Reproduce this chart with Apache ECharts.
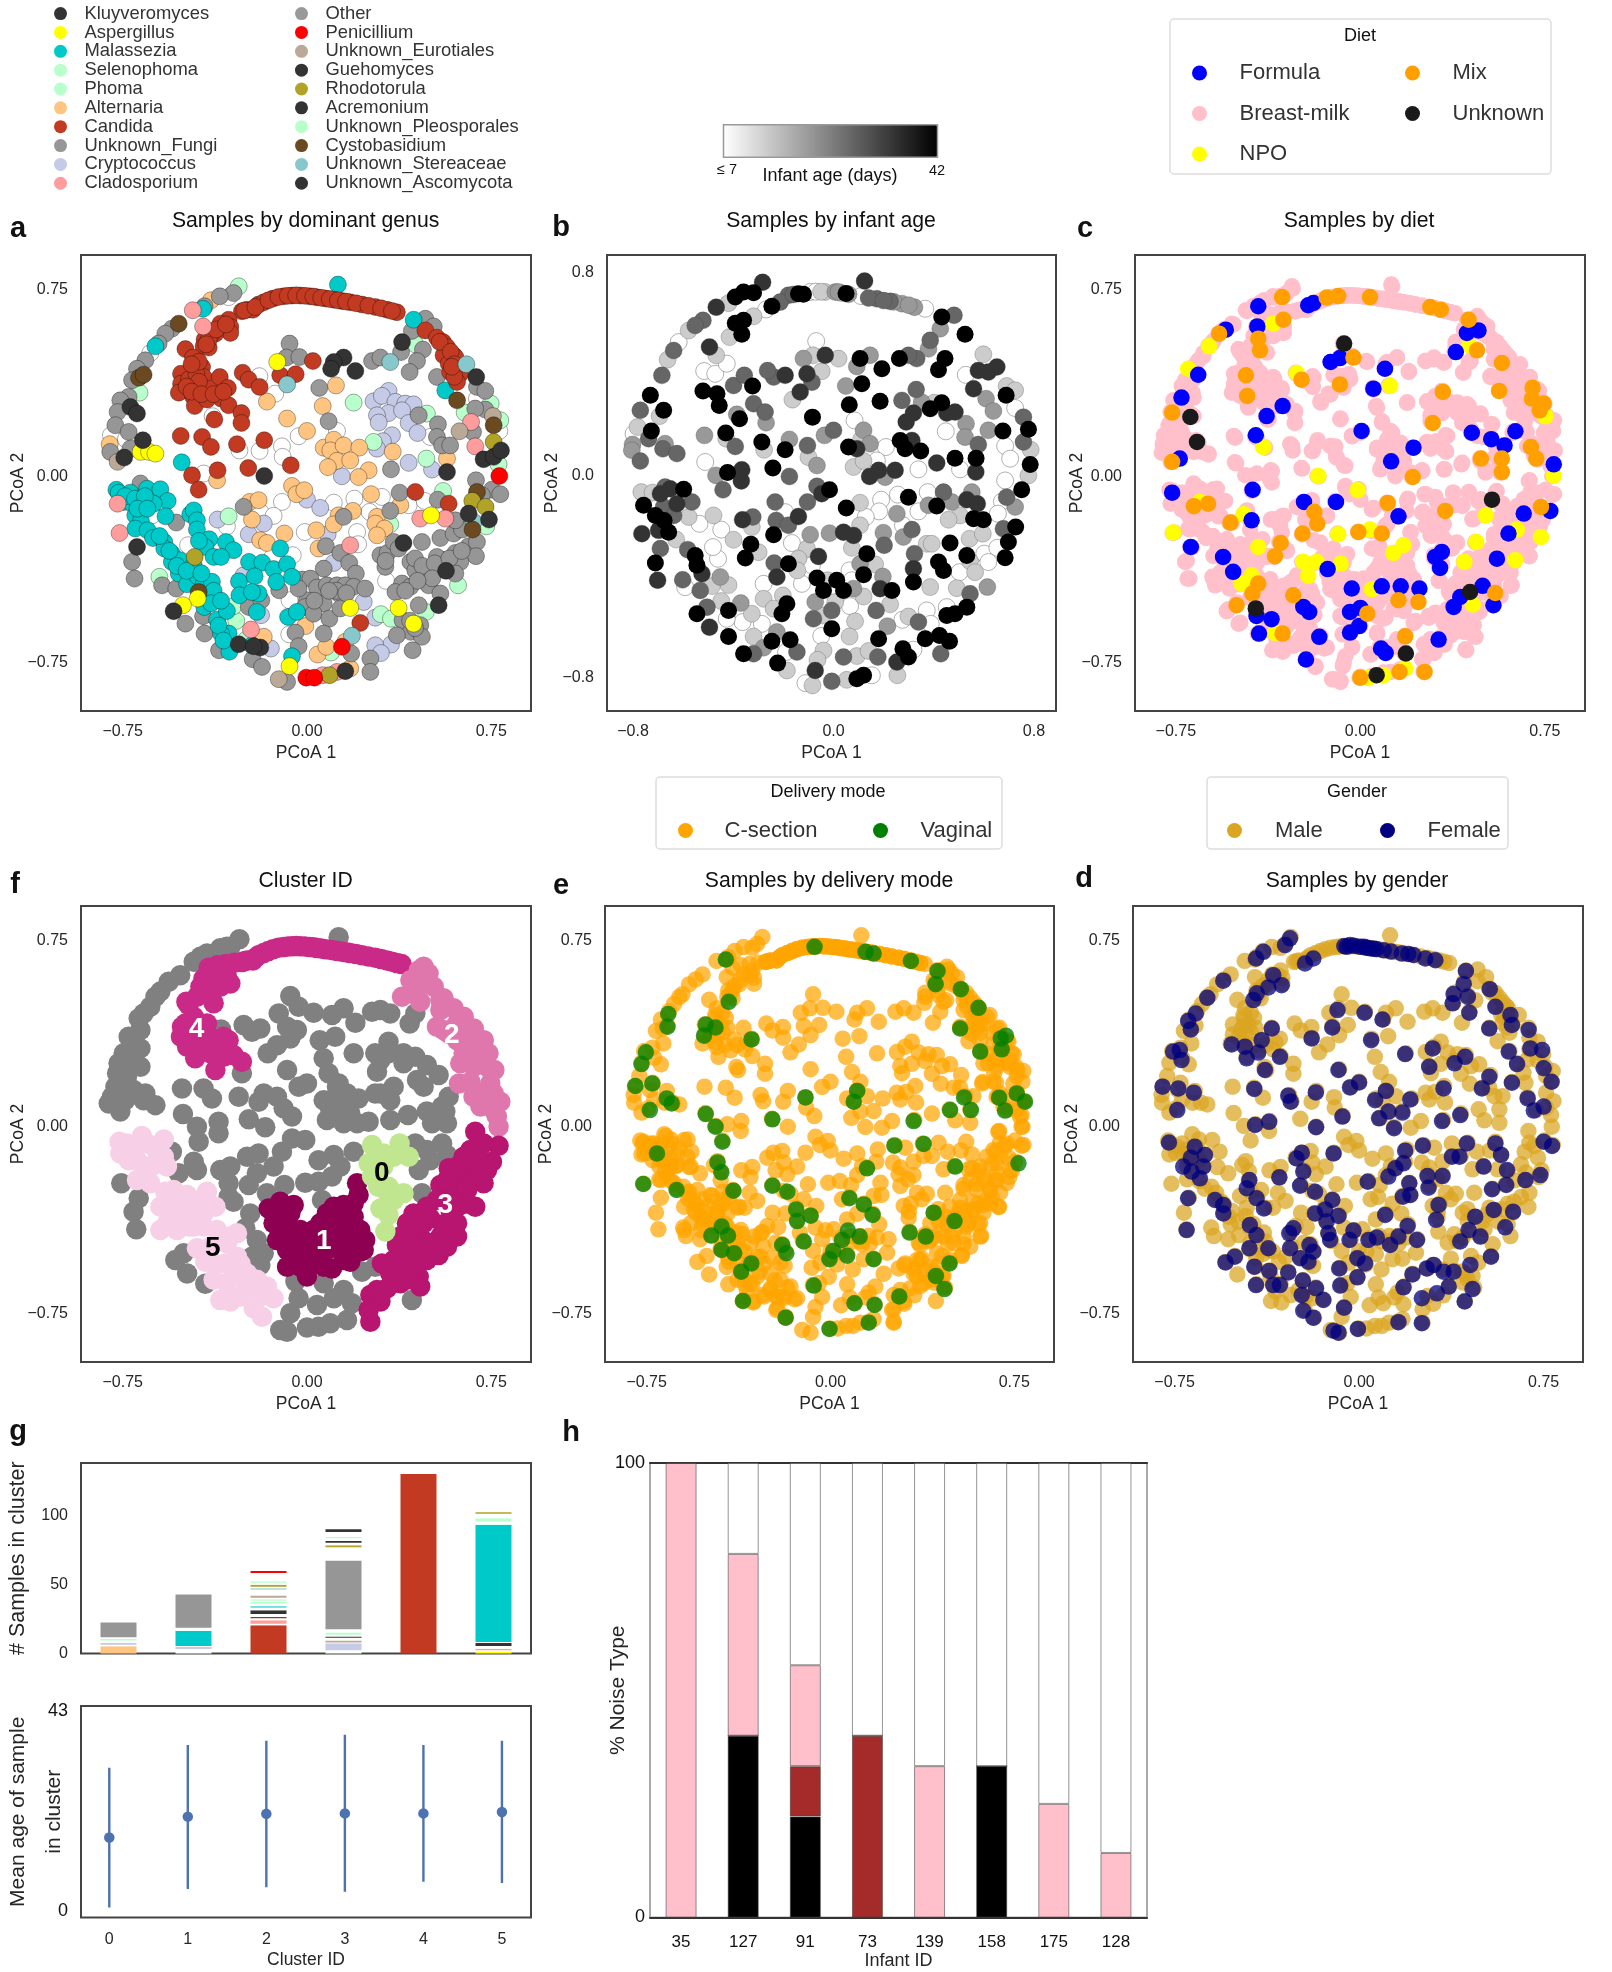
<!DOCTYPE html>
<html><head><meta charset="utf-8"><style>html,body{margin:0;background:#fff}#c{width:1612px;height:1972px}</style>
<script src="https://cdn.jsdelivr.net/npm/echarts@6/dist/echarts.min.js"></script></head>
<body><div id="c"></div><script>
// ---- Panel a: samples by dominant genus (PCoA1, PCoA2)
const candida=[[-.265,.663],[-.244,.669],[-.22,.669],[-.197,.69],[-.176,.699],[-.138,.714],[-.095,.723],[-.061,.726],[-.027,.726],[.011,.723],[.041,.719],[.075,.714],[.111,.709],[.142,.704],[.176,.699],[.224,.69],[.278,.68],[.326,.669],[.366,.659],
[.482,.586],[.529,.557],[.554,.539],[.57,.519],[.597,.486],[.556,.486],[.577,.452],[.604,.479],[.624,.412],[.583,.419],[.611,.379],
[-.319,.629],[-.312,.6],[-.312,.576],[-.353,.613],[-.373,.573],[-.393,.566],[-.417,.549],[-.421,.522],[-.4,.517],[-.495,.511],[-.464,.477],[-.468,.439],[-.427,.439],[-.471,.406],[-.513,.412],[-.513,.372],[-.522,.336],[-.461,.372],[-.421,.399],[-.393,.352],[-.464,.321],[-.457,.282],[-.407,.308],[-.355,.399],[-.322,.355],[-.349,.312],[-.319,.285],[-.267,.254],[-.267,.214],[-.377,.228],[-.262,.416],[-.237,.388],[-.193,.359],[-.109,.406],[-.046,.41],[.024,.463],
[-.514,.162],[-.427,.158],[-.391,.118],[-.285,.129],[-.174,.145],[-.364,.024],[-.468,.004],[-.441,-.054],[-.239,.033],[-.066,.044],[.441,-.063],[.577,-.11],[.217,-.589]];
const candidaExtra=[[-.255,.666],[-.21,.68],[-.157,.707],[-.116,.72],[-.078,.725],[-.044,.727],[-.008,.725],[.026,.722],[.058,.717],[.093,.712],[.126,.707],[.159,.702],[.2,.695],[.25,.685],[.302,.675],[.346,.664],[-.48,.39],[-.45,.41],[-.44,.38],[-.49,.36],[-.47,.34],[-.43,.33],[-.38,.33],[-.34,.34],[-.4,.55],[-.37,.59],[-.33,.61],[-.41,.53],[-.44,.46],[-.47,.45],[.54,.54],[.585,.5],[.6,.45],[.6,.4],[.59,.44]];
const malassezia=[[.126,.77],[.434,.629],[.563,.345],[-.617,.522],[-.51,.056],[-.423,.673],[-.776,-.054],[-.767,-.066],[-.719,-.066],[-.651,-.05],[-.597,-.052],[-.567,-.099],[-.746,-.103],[-.712,-.11],[-.678,-.123],[-.624,-.11],[-.699,-.157],[-.676,-.179],[-.576,-.161],[-.475,-.153],[-.461,-.137],[-.699,-.21],[-.649,-.217],[-.448,-.177],[-.448,-.214],[-.627,-.248],[-.581,-.264],[-.581,-.29],[-.55,-.311],[-.55,-.344],[-.518,-.337],[-.398,-.253],[-.33,-.264],[-.299,-.297],[-.414,-.284],[-.38,-.324],[-.35,-.324],[-.522,-.391],[-.488,-.434],[-.445,-.402],[-.461,-.357],[-.421,-.434],[-.387,-.424],[-.277,-.422],[-.275,-.478],[-.366,-.495],[-.4,-.485],[-.418,-.525],[-.366,-.576],[-.326,-.541],[-.319,-.632],[-.35,-.632],[-.316,-.705],[-.236,-.344],[-.182,-.347],[-.136,-.373],[-.081,-.353],[-.109,-.29],[-.213,-.402],[-.125,-.424],[-.061,-.404],[-.197,-.471],[-.224,-.465],[-.204,-.545],[-.077,-.565],[-.041,-.545],[-.061,-.723],[-.224,-.679]];
const malasseziaExtra=[[-.74,-.08],[-.7,-.09],[-.66,-.08],[-.69,-.13],[-.65,-.13],[-.6,-.24],[-.56,-.3],[-.53,-.36],[-.49,-.38],[-.43,-.39],[-.38,-.46],[-.39,-.51],[-.35,-.5],[-.36,-.6],[-.34,-.66],[-.44,-.26]];
const unknownFungi=[[-.299,.736],[-.355,.723],[-.417,.683],[-.55,.593],[-.577,.573],[-.604,.533],[-.658,.466],[-.692,.432],[-.712,.386],[-.726,.319],[-.76,.305],[-.771,.258],[-.78,.205],[-.726,.178],[-.801,.098],[-.719,.111],[-.678,-.029],[-.532,-.186],[-.712,-.344],[-.702,-.411],[-.59,-.438],[-.532,-.451],[-.495,-.592],[-.423,-.562],[-.417,-.632],[-.358,-.699],[-.221,-.735],[-.183,-.766],[-.237,-.525],[-.186,-.498],[-.113,-.458],[-.258,-.123],
[-.071,.533],[-.084,.477],[-.031,.479],[.265,.463],[.299,.477],[.383,.499],[.427,.584],[.482,.633],[.516,.602],[.472,.509],[.448,.463],[.418,.419],[.529,.399],[.692,.359],[.726,.343],[.726,.268],[.685,.272],[.533,.209],[.529,.158],[.55,.124],[.583,.124],[.676,.178],[.455,.245],[.688,-.016],[.753,-.054],[.787,-.072],[.712,-.076],[.377,-.066],[.339,-.139],[.532,-.094],[.543,-.248],[.597,-.23],[.631,-.214],[.604,-.177],
[.149,-.163],[.077,-.281],[.136,-.308],[.172,-.348],[.068,-.371],[.199,-.391],[-.02,-.415],[.014,-.411],[.041,-.447],[.081,-.438],[.122,-.438],[.156,-.438],[.19,-.444],[.237,-.451],[.129,-.471],[0,-.498],[-.034,-.451],[.068,-.511],[-.007,-.525],[.027,-.552],[.091,-.572],[.136,-.531],[-.047,-.628],[.068,-.632],[-.034,-.683],[.18,-.712],[.258,-.732],[.258,-.786],[-.081,-.826],
[.299,-.317],[.328,-.308],[.353,-.264],[.373,-.29],[.319,-.364],[.468,-.264],[.421,-.344],[.441,-.378],[.502,-.378],[.55,-.335],[.604,-.308],[.658,-.281],[.692,-.264],[.688,-.321],[.624,-.344],[.529,-.324],[.604,-.391],[.387,-.431],[.36,-.465],[.421,-.444],[.495,-.438],[.543,-.471],[.455,-.518],[.389,-.578],[.461,-.598],[.423,-.625],[.468,-.645],[.366,-.639],[.43,-.699]];
const unknownFungiExtra=[[.32,-.34],[.44,-.33],[.47,-.36],[.52,-.35],[.58,-.33],[.63,-.3],[.51,-.41],[.45,-.42],[.4,-.46],[.12,-.46],[.16,-.47],[.09,-.46],[.03,-.5],[.42,-.58],[.44,-.61]];
const otherGenus=[[.05,.355],[.088,.221],[.342,.028]];
const aspergillus=[[-.121,.459],[-.677,.098],[-.643,.098],[-.617,.091],[.505,-.157],[-.445,-.491],[-.505,-.518],[.176,-.529],[.373,-.529],[-.071,-.763],[.434,-.592]];
const kluyveromyces=[[.149,.477],[.109,.459],[.098,.432],[.197,.423],[.387,.539],[.689,.399],[-.719,.278],[-.692,.252]];
const guehomyces=[[-.668,.145],[-.744,.075],[-.174,.001],[.57,.017],[.719,.068],[.76,.078],[.79,.104]];
const acremonium=[[.658,-.15],[.741,-.174],[.393,-.268],[.566,-.38],[.536,-.518]];
const unknownAscomycota=[[-.692,-.284],[-.543,-.542],[-.278,-.675],[-.19,-.688],[-.217,-.683],[.156,-.783]];
const selenophoma=[[-.278,.763],[-.682,.336],[.19,.296],[.441,.53],[.488,.252],[.642,.256],[.748,.292],[.787,.225]];
const phoma=[[.271,.138],[.486,.071],[.78,.048],[.554,-.059],[.73,-.201],[.339,-.193],[-.319,-.161],[-.601,-.404]];
const unknownPleosporales=[[.615,-.438],[.484,-.545],[.301,-.554],[.342,-.572],[-.288,-.581],[-.299,-.522],[-.247,-.656],[.098,-.708]];
const alternaria=[[-.391,.707],[-.803,.129],[-.163,.3],[.118,.365],[.064,.282],[-.081,.232],[0,.182],[.068,.115],[.109,.147],[.095,.104],[.149,.124],[.213,.115],[.122,.062],[.176,.064],[.085,.037],[.251,.024],[.21,-.003],[.349,.099],[.57,.071],[-.366,-.016],[-.061,-.039],[-.043,-.072],[-.011,-.056],[-.233,-.103],[-.197,-.096],[-.224,-.174],[.261,-.072],[.38,-.116],[.187,-.139],[.129,-.157],[.109,-.193],[.038,-.217],[-.092,-.23],[-.19,-.257],[-.163,-.268],[.285,-.163],[.278,-.19],[.316,-.21],[.285,-.237],[.047,-.29],[-.007,-.602],[-.176,-.645],[.043,-.716],[.079,-.685],[.156,-.665],[.176,-.772]];
const cryptococcus=[[.332,.343],[.271,.301],[.305,.323],[.36,.299],[.4,.292],[.434,.289],[.332,.254],[.285,.245],[.292,.216],[.387,.265],[.414,.214],[.45,.174],[.346,.165],[.309,.141],[.285,.111],[.414,.054],[.509,.027],[.142,0],[0,-.094],[.054,-.127],[-.364,-.174],[-.237,-.233],[-.176,-.19],[.084,-.233],[.109,-.348],[-.258,-.398],[.231,-.505],[-.187,-.558],[.278,-.568],[-.147,-.692],[.342,-.676],[.278,-.679],[.301,-.71]];
const cladosporium=[[-.465,.667],[-.423,.602],[-.771,-.11],[-.763,-.228],[.668,.218],[.685,.12],[.461,-.17],[.563,-.17],[.176,-.277],[-.228,-.616],[.064,-.799],[.122,-.786]];
const penicillium=[[.783,.001],[-.003,-.809],[.03,-.809],[.142,-.685]];
const unknownEurotiales=[[-.771,.058],[.621,.181],[.757,.242],[-.115,-.815]];
const rhodotorula=[[-.457,-.324],[.673,-.099],[.727,-.123],[.76,.138],[.092,-.799]];
const cystobasidium=[[-.522,.613],[-.684,.396],[-.665,.408],[.611,.305],[.674,-.214],[.692,-.063],[.76,.205],[-.441,-.465]];
const unknownStereaceae=[[.339,.459],[-.081,.369],[.649,.45],[.183,-.641],[.678,-.183]];
const unassigned=[[-.319,.72],[-.638,.495],[-.798,.165],[-.737,.149],[-.384,.241],[-.275,.104],[-.193,.102],[-.194,.402],[-.129,.332],[-.102,.12],[-.099,.078],[-.034,.161],[.122,.182],[-.421,.011],[.783,.182],[.692,.312],[.502,.158],[-.102,-.103],[-.19,-.143],[-.136,-.159],[-.326,-.201],[.109,-.106],[.193,-.09],[.305,-.083],[.414,-.116],[.479,-.099],[.255,-.143],[.204,-.224],[.208,-.273],[-.009,-.224],[-.631,-.157],[-.484,-.277],[-.14,-.324],[-.058,-.317],[.322,-.42],[-.071,-.498],[-.072,-.635]];
// ---- Panel b: infant age, one list per read grey level
const age7=[[-.069,.53],[-.093,.724],[.11,.708],[.366,.658],[-.269,.655],[-.516,.412],[-.472,.401],[-.426,.441],[-.618,.526],[-.798,.164],[-.512,.053],[.084,.217],[.448,.174],[.528,.397],[.725,.266],[.685,.116],[.705,.066],[.505,.024],[.339,.024],[.209,.112],[.173,.059],[.685,-.02],[.672,-.103],[.656,-.151],[.376,-.066],[.257,-.076],[.19,-.096],[.182,-.142],[.339,-.142],[.277,-.197],[.129,-.164],[-.193,-.145],[-.535,-.191],[-.448,-.214],[-.461,-.329],[-.481,-.283],[-.166,-.267],[-.086,-.355],[-.279,-.428],[-.126,-.428],[.064,-.375],[.073,-.414],[.503,-.382],[.602,-.309],[.654,-.286],[.618,-.342],[.372,-.533],[.452,-.52],[.388,-.586],[.275,-.57],[.066,-.516],[-.286,-.586],[-.363,-.579],[-.426,-.566],[-.049,-.634],[-.189,-.697],[.153,-.789],[-.112,-.82],[.319,-.688],[-.592,-.441],[-.07,.725]];
const age14=[[-.578,.572],[-.662,.457],[-.419,.68],[-.319,.628],[-.415,.546],[-.468,.474],[-.033,.724],[.598,.478],[.691,.353],[.725,.336],[-.694,.234],[-.782,.191],[-.767,-.066],[-.722,-.068],[-.428,.145],[-.277,.101],[-.1,.072],[.08,.033],[.12,.057],[.11,.142],[-.047,.411],[.02,.461],[-.164,.299],[-.082,.474],[.402,.287],[.787,.101],[.778,0],[.505,-.158],[.459,-.175],[.106,-.108],[.106,-.197],[-.578,-.164],[-.479,-.158],[-.628,-.253],[-.326,-.204],[-.399,-.254],[-.299,-.303],[-.106,-.289],[-.14,-.329],[-.144,-.375],[-.024,-.414],[.166,-.351],[-.485,-.437],[-.419,-.433],[-.448,-.496],[-.202,-.474],[-.279,-.487],[-.239,-.526],[-.326,-.546],[-.319,-.636],[-.043,-.553],[.007,-.5],[.12,-.478],[.226,-.509],[.086,-.576],[.064,-.636],[-.04,-.691],[-.064,-.728],[-.186,-.77],[-.084,-.829],[.093,-.713],[.14,-.693],[.255,-.789],[.073,-.286],[.372,-.27],[.392,-.27],[.543,-.25],[.596,-.23],[.545,-.339],[.565,-.382],[.492,-.445],[.386,-.441],[.299,-.557],[.053,-.807],[-.05,.725],[.03,.72]];
const age21=[[-.12,.461],[.093,.43],[.146,.474],[.049,.353],[.379,.5],[.426,.579],[.609,.303],[.638,.254],[.529,.204],[.618,.178],[.352,.289],[-.515,.158],[-.672,.125],[-.176,.142],[-.036,.158],[-.066,.039],[-.469,0],[-.386,.241],[-.269,.208],[.007,.724],[.273,.678],[.323,.664],[.12,.178],[.146,.125],[.206,-.007],[.472,-.105],[.552,-.066],[.379,-.118],[.725,-.125],[.253,-.151],[-.016,-.228],[-.093,-.234],[.199,-.226],[.279,-.243],[.106,-.349],[.197,-.399],[.08,-.447],[-.073,-.5],[.215,-.595],[-.279,-.68],[-.226,-.618],[-.452,-.401],[-.37,-.504],[.614,-.441],[-.802,.122],[-.805,.099],[.525,.151],[.02,.724],[.06,.715],[.24,.685],[.3,.672]];
const age28=[[-.521,.612],[-.552,.592],[-.638,.493],[-.685,.395],[-.771,.257],[-.738,.145],[-.771,.057],[-.681,.105],[-.625,.086],[-.672,-.046],[-.565,-.105],[-.678,-.125],[-.638,-.158],[-.691,-.289],[-.582,-.293],[-.602,-.412],[-.505,-.52],[-.532,-.454],[-.18,.711],[-.213,.684],[.173,.697],[.226,.687],[.481,.632],[.332,.461],[.299,.474],[.33,.339],[.273,.296],[.386,.533],[0,.178],[-.104,.118],[-.176,-.004],[-.104,-.105],[-.066,-.043],[-.229,-.178],[-.18,-.197],[-.233,-.105],[-.322,-.164],[-.399,.355],[-.356,.395],[-.319,.283],[-.273,.25],[-.392,.114],[-.441,-.057],[-.239,.388],[-.263,.414],[-.086,.368],[.439,-.066],[.578,.122],[.758,.23],[.758,.132],[.691,-.086],[.678,-.211],[.313,-.214],[.202,-.276],[.17,-.533],[.04,-.717],[.177,-.717],[-.146,-.697],[-.319,-.704],[.428,-.704],[-.007,-.813],[-.237,-.346],[.323,-.309],[.339,-.579],[-.08,-.566],[-.007,-.533],[.545,-.467],[-.16,.714],[.14,.7],[.2,.69]];
const age35=[[.124,.767],[-.283,.762],[-.468,.664],[-.495,.507],[-.033,.474],[-.106,.401],[-.133,.329],[-.193,.395],[.559,.342],[.652,.428],[.578,.414],[.618,.408],[.319,.246],[.29,.211],[.485,.25],[.452,.246],[.313,.138],[.412,.049],[.144,-.004],[.246,.02],[.18,.02],[.568,.013],[-.368,-.022],[-.366,.022],[.093,.105],[-.691,-.072],[-.652,-.053],[-.765,-.23],[-.625,-.112],[-.698,-.217],[-.702,-.414],[-.525,-.388],[-.495,-.599],[-.047,-.072],[.532,-.096],[.574,-.112],[.04,-.224],[.08,-.237],[-.363,-.175],[-.14,-.162],[-.06,-.32],[.186,-.447],[-.073,-.77],[.253,-.737],[-.226,-.401],[.319,-.368]];
const age42=[[-.392,.704],[-.359,.724],[-.319,.721],[-.14,.717],[-.246,.668],[.432,.625],[.525,.557],[-.392,.601],[-.359,.612],[-.366,.557],[.445,.461],[.419,.417],[.193,.421],[.263,.461],[.106,.461],[.113,.362],[.186,.293],[.063,.279],[-.084,.23],[-.521,.333],[-.465,.322],[-.456,.276],[-.323,.353],[-.731,.316],[-.678,.257],[-.375,.224],[-.727,.175],[-.43,.167],[-.286,.132],[-.193,.101],[-.242,.029],[-.423,.011],[.06,.112],[.266,.138],[.286,.105],[.348,.096],[.485,.068],[.569,.068],[.778,.182],[.676,.175],[.689,.316],[.386,.263],[.432,.287],[.785,.043],[.751,-.057],[-.016,-.057],[.299,-.086],[.412,-.121],[.051,-.129],[-.598,-.055],[-.758,-.118],[-.711,-.158],[-.676,-.178],[-.658,-.224],[.559,-.171],[.598,-.175],[.727,-.204],[-.239,-.234],[-.33,-.272],[-.352,-.326],[-.711,-.346],[-.552,-.316],[-.545,-.355],[.133,-.309],[.465,-.267],[.419,-.342],[.439,-.375],[.532,-.316],[.685,-.325],[.698,-.263],[-.18,-.349],[.12,-.392],[-.066,-.405],[.013,-.414],[-.04,-.454],[.04,-.454],[.233,-.454],[.319,-.421],[.532,-.52],[.485,-.546],[.452,-.553],[-.545,-.546],[-.186,-.507],[-.206,-.546],[-.419,-.533],[-.419,-.636],[-.007,-.605],[-.173,-.649],[-.246,-.655],[-.359,-.704],[-.223,-.741],[.18,-.645],[.277,-.684],[.299,-.717],[.366,-.645],[.423,-.632],[.463,-.655],[.093,-.803],[.12,-.789],[-.12,.715],[.05,.718]];
// ---- Panel c: diet (breast-milk = remaining samples)
const dietFormula=[[-.415,.683],[-.419,.602],[-.547,.589],[-.191,.696],[-.212,.687],[.48,.586],[.433,.576],[.388,.499],[-.121,.459],[-.083,.475],[.1,.432],[.053,.352],[-.659,.408],[-.727,.316],[-.316,.282],[-.381,.242],[-.425,.165],[.005,.182],[.216,.115],[.125,.06],[.453,.175],[.532,.149],[.586,.124],[.63,.181],[.786,.048],[-.734,.071],[-.765,-.066],[-.438,-.054],[-.229,-.103],[-.099,-.103],[.664,-.15],[.772,-.139],[.602,-.23],[.555,-.331],[.155,-.161],[-.442,-.177],[-.689,-.284],[-.558,-.324],[-.517,-.384],[-.133,-.373],[.304,-.324],[.331,-.304],[.324,-.368],[-.035,-.451],[.087,-.442],[.164,-.442],[.24,-.451],[.497,-.44],[.406,-.485],[.379,-.525],[.541,-.518],[-.232,-.525],[-.208,-.545],[-.042,-.545],[0,-.529],[-.005,-.602],[-.042,-.628],[-.422,-.561],[-.361,-.574],[-.412,-.632],[-.167,-.645],[.084,-.692],[.103,-.71],[-.221,-.736],[.318,-.656]];
const dietMix=[[-.318,.72],[-.313,.629],[-.574,.573],[-.415,.553],[-.408,.506],[-.137,.718],[-.09,.724],[.039,.72],[.284,.68],[.327,.669],[.44,.629],[.474,.506],[-.028,.477],[.575,.455],[.564,.343],[.7,.356],[.697,.312],[.745,.292],[.729,.265],[.335,.339],[.294,.214],[-.083,.369],[-.239,.388],[-.465,.406],[-.46,.323],[-.765,.256],[-.765,.058],[.693,.118],[.715,.071],[.575,.071],[.575,.017],[.49,.071],[.213,-.003],[.111,-.107],[.345,-.139],[.734,-.123],[-.677,-.12],[-.619,-.11],[-.528,-.186],[-.187,-.143],[-.175,-.19],[-.235,-.23],[-.008,-.224],[.087,-.23],[-.324,-.268],[-.347,-.321],[-.415,-.431],[-.439,-.471],[-.503,-.518],[-.273,-.478],[.236,-.505],[.155,-.498],[.028,-.552],[-.316,-.632],[.182,-.643],[.159,-.786],[.261,-.786],[0,-.809],[.548,-.469]];
const dietNPO=[[-.259,.415],[-.354,.613],[-.615,.522],[-.7,.432],[.442,.526],[.752,.241],[.121,.363],[-.171,.001],[-.011,-.056],[.786,.001],[-.653,-.103],[-.474,-.153],[-.761,-.226],[.51,-.157],[-.09,-.233],[.039,-.214],[.471,-.264],[.636,-.214],[.734,-.244],[.134,-.308],[.175,-.277],[-.232,-.344],[-.178,-.344],[-.08,-.351],[-.212,-.4],[.423,-.344],[.63,-.337],[-.442,-.398],[-.483,-.431],[.046,-.454],[.457,-.515],[-.347,-.629],[.182,-.772],[.094,-.799],[.033,-.809],[-.395,.118],[-.415,-.284]];
const dietUnknown=[[-.066,.533],[-.691,.238],[-.664,.138],[.535,-.094],[.066,-.799],[.185,-.712],[-.425,-.531],[.446,-.465]];
// ---- Panel e: vaginal deliveries (c-section = remaining samples)
const vaginal=[[-.065,.724],[.176,.697],[.143,.704],[.328,.667],[-.427,.673],[.437,.627],[.429,.574],[.532,.554],[.604,.479],[.529,.396],[.611,.303],[.695,.356],[.716,.367],[.699,.312],[-.662,.454],[-.665,.403],[-.509,.412],[-.469,.4],[-.516,.367],[-.322,.352],[-.415,.503],[-.753,.3],[-.771,.253],[-.796,.165],[-.727,.175],[-.668,.115],[-.648,.095],[-.737,.068],[-.509,.052],[-.469,.001],[-.441,-.059],[-.237,.031],[-.102,.119],[.109,.145],[.095,.102],[.545,.119],[.488,.068],[.573,.068],[.688,.118],[.76,.135],[.794,.102],[.712,.066],[.339,.024],[.261,-.075],[.38,-.068],[.509,-.159],[.767,-.146],[.149,-.166],[-.708,-.106],[-.461,-.142],[-.445,-.182],[-.764,-.229],[-.628,-.253],[-.396,-.256],[-.237,-.236],[-.176,-.26],[.077,-.286],[.136,-.311],[.172,-.353],[-.14,-.331],[-.081,-.356],[-.136,-.378],[.421,-.344],[.506,-.378],[.323,-.424],[.389,-.44],[-.444,-.4],[-.486,-.436],[-.418,-.436],[-.445,-.494],[-.393,-.507],[-.197,-.474],[-.18,-.507],[-.109,-.46],[.071,-.416],[.119,-.44],[.047,-.454],[.011,-.498],[-.004,-.531],[.068,-.517],[.176,-.531],[-.323,-.548],[-.364,-.581],[.486,-.548],[.43,-.598],[.465,-.651],[.281,-.681],[-.068,-.637],[-.357,-.699],[.098,-.708],[.18,-.715],[-.183,-.766],[.156,-.786],[-.004,-.811]];
// ---- Panel d: female infants (male = remaining samples)
const female=[[-.281,.758],[-.301,.731],[-.389,.704],[-.419,.677],[-.037,.731],[.004,.724],[.045,.718],[-.05,.724],[.174,.697],[.221,.691],[.269,.677],[-.186,.677],[-.22,.657],[.434,.627],[.425,.574],[.384,.534],[.38,.497],[.442,.523],[.448,.459],[.531,.554],[.554,.483],[.615,.45],[.621,.41],[.529,.396],[.689,.39],[.608,.303],[.642,.253],[.696,.316],[.744,.309],[.75,.236],[.782,.182],[.621,.178],[.529,.202],[.499,.155],[.685,.115],[.71,.066],[.75,.082],[.75,-.059],[.784,-.076],[.411,.048],[.337,.024],[.438,-.066],[.554,-.066],[.577,-.112],[.506,-.159],[.408,-.119],[.377,-.119],[.259,-.075],[.187,-.095],[.18,-.146],[.147,-.166],[.119,-.199],[.035,-.22],[-.104,-.106],[-.233,-.103],[-.254,-.126],[-.227,-.179],[-.24,-.236],[-.179,-.26],[-.324,-.202],[-.446,-.213],[-.457,-.246],[-.417,-.286],[-.387,-.327],[-.695,-.286],[-.701,-.414],[-.552,-.347],[-.586,-.293],[-.552,-.313],[-.668,-.079],[-.627,-.112],[-.684,-.123],[-.634,-.159],[-.715,-.159],[-.681,-.179],[-.647,-.206],[-.773,-.062],[-.735,.155],[-.799,.162],[-.672,.138],[-.739,.068],[-.426,.153],[-.288,.126],[-.278,.102],[-.176,.139],[-.084,.229],[-.037,.159],[0,.179],[.109,.145],[.065,.108],[.208,.111],[.119,.062],[.176,.058],[.081,.035],[.142,-.005],[-.068,.042],[-.175,-.001],[-.366,.021],[-.423,.008],[.343,.155],[.285,.242],[.299,.316],[.388,.256],[.431,.282],[.187,.293],[.049,.349],[.095,.432],[.022,.459],[-.088,.47],[-.109,.4],[-.193,.356],[-.355,.396],[-.396,.349],[-.464,.323],[-.41,.299],[-.457,.276],[-.518,.332],[-.322,.282],[-.383,.229],[-.43,.51],[-.416,.537],[-.369,.561],[-.315,.57],[-.349,.61],[-.552,.588],[-.617,.519],[-.664,.456],[-.695,.426],[-.684,.392],[-.756,.303],[-.729,.309],[-.722,.269],
[.038,-.454],[-.023,-.416],[-.039,-.454],[-.118,-.454],[-.125,-.427],[-.084,-.357],[-.132,-.38],[-.179,-.347],[-.138,-.331],[-.109,-.293],[.072,-.444],[.126,-.474],[.16,-.44],[.235,-.454],[.197,-.398],[.106,-.353],[.178,-.28],[.208,-.273],[.204,-.226],[.282,-.244],[.278,-.197],[.339,-.197],[.323,-.313],[.313,-.373],[.411,-.46],[.445,-.414],[.472,-.36],[.493,-.44],[.547,-.333],[.594,-.403],[.626,-.34],[.54,-.25],[.598,-.233],[.601,-.173],[.676,-.213],[.737,-.193],[.536,-.521],[.452,-.554],[.384,-.581],[.343,-.581],[.303,-.554],[.275,-.568],[.217,-.592],[.364,-.641],[.461,-.651],[.429,-.701],[.316,-.668],[.255,-.688],[.255,-.788],[.18,-.644],[.16,-.784],[-.005,-.811],[-.104,-.818],[-.084,-.826],[-.186,-.766],[-.227,-.738],[-.061,-.726],[-.145,-.695],[-.175,-.648],[-.229,-.617],[-.233,-.675],[-.077,-.637],[-.007,-.604],[.024,-.548],[-.007,-.527],[-.081,-.568],[-.206,-.541],[-.24,-.527],[-.186,-.501],[-.202,-.474],[-.281,-.487],[-.284,-.427],[-.267,-.407],[-.288,-.584],[-.322,-.635],[-.349,-.635],[-.419,-.635],[-.365,-.578],[-.426,-.561],[-.505,-.521],[-.543,-.544],[-.369,-.487],[-.446,-.487],[-.444,-.394],[-.417,-.434],[-.02,.728],[.02,.724],[.07,.715],[.1,.71],[.13,.705],[.03,.72],[.06,.716],[-.06,.727],[.2,.695],[.31,.67]];
// ---- Panel f: cluster membership
const clusterArc=[[-.4,.64],[-.365,.65],[-.33,.655],[-.295,.66],[-.265,.663],[-.244,.669],[-.22,.669],[-.197,.69],[-.176,.699],[-.138,.714],[-.095,.723],[-.061,.726],[-.027,.726],[.011,.723],[.041,.719],[.075,.714],[.111,.709],[.142,.704],[.176,.699],[.224,.69],[.278,.68],[.326,.669],[.366,.659],[.385,.655],[-.255,.666],[-.21,.68],[-.157,.707],[-.116,.72],[-.078,.725],[-.044,.727],[-.008,.725],[.026,.722],[.058,.717],[.093,.712],[.126,.707],[.159,.702],[.2,.695],[.25,.685],[.302,.675],[.346,.664]];
const cluster4=[[-.421,.597],[-.366,.61],[-.312,.577],[-.353,.63],[-.407,.537],[-.38,.497],[-.491,.503],[-.448,.523],[-.434,.564],[-.495,.416],[-.513,.363],[-.509,.403],[-.461,.443],[-.434,.416],[-.461,.376],[-.407,.376],[-.421,.323],[-.455,.276],[-.366,.323],[-.319,.349],[-.339,.282],[-.393,.296],[-.373,.229],[-.299,.289],[-.265,.262],[-.339,.363],[-.393,.55],[-.353,.564],[-.326,.604],[-.482,.49],[-.461,.416],[-.407,.416],[-.488,.323],[-.448,.323],[-.393,.349],[-.326,.309]];
const cluster2=[[.455,.63],[.495,.617],[.421,.59],[.434,.55],[.387,.523],[.461,.503],[.516,.564],[.556,.517],[.597,.477],[.638,.443],[.529,.403],[.577,.376],[.679,.396],[.72,.349],[.739,.296],[.665,.336],[.638,.296],[.679,.242],[.619,.175],[.665,.182],[.763,.229],[.746,.175],[.678,.122],[.787,.102],[.76,.068],[.706,.082],[.78,.001],[.773,.042],[.719,.256],[.543,.47],[.611,.416],[.556,.39],[.611,.349],[.665,.376],[.692,.323],[.624,.256],[.665,.269],[.733,.242],[.692,.135],[.76,.135],[.719,.122],[.488,.577],[.475,.644],[.543,.51]];
const cluster3=[[.685,-.019],[.78,-.075],[.719,-.066],[.753,-.139],[.665,-.092],[.678,-.146],[.577,-.166],[.624,-.199],[.719,-.226],[.543,-.233],[.597,-.253],[.685,-.32],[.624,-.313],[.529,-.293],[.434,-.347],[.502,-.367],[.611,-.387],[.407,-.387],[.38,-.44],[.611,-.44],[.543,-.44],[.461,-.44],[.366,-.474],[.434,-.507],[.536,-.514],[.488,-.534],[.353,-.534],[.407,-.561],[.305,-.548],[.339,-.588],[.455,-.601],[.461,-.641],[.38,-.628],[.326,-.648],[.258,-.675],[.299,-.701],[.251,-.735],[.258,-.782],[.58,-.3],[.65,-.25],[.56,-.39],[.48,-.47],[.638,-.119],[.692,-.119],[.733,-.173],[.678,-.213],[.611,-.159],[.57,-.213],[.652,-.253],[.652,-.307],[.584,-.333],[.488,-.32],[.556,-.4],[.475,-.387],[.407,-.454],[.502,-.467],[.57,-.481],[.434,-.561],[.366,-.534],[.407,-.614],[.285,-.655],[.353,-.601]];
const cluster1=[[.204,-.226],[.21,-.273],[-.156,-.327],[-.109,-.3],[-.054,-.313],[.149,-.313],[.081,-.347],[-.136,-.387],[-.081,-.387],[.19,-.36],[.217,-.414],[.237,-.454],[-.122,-.454],[-.054,-.44],[.027,-.414],[.122,-.4],[.163,-.467],[.081,-.494],[.231,-.494],[-.081,-.494],[0,-.507],[-.081,-.561],[0,-.601],[.102,-.568],[.176,-.541],[-.027,-.561],[.041,-.534],[.07,-.44],[0,-.46],[.13,-.35],[.027,-.467],[-.054,-.507],[.122,-.467],[.19,-.44],[.163,-.387],[.054,-.387],[-.027,-.414],[-.102,-.44],[.068,-.561],[.149,-.534],[-.136,-.347],[-.068,-.347],[.19,-.307],[.109,-.32],[.217,-.5]];
const cluster0=[[.265,-.072],[.377,-.066],[.414,-.119],[.251,-.146],[.312,-.106],[.265,-.199],[.332,-.24],[.393,-.266],[.332,-.293],[.299,-.327],[.332,-.353],[.319,-.42],[.353,-.119],[.353,-.293],[.29,-.24],[.31,-.16]];
const cluster5=[[-.763,-.059],[-.672,-.036],[-.583,-.05],[-.76,-.106],[-.699,-.072],[-.617,-.086],[-.692,-.133],[-.57,-.159],[-.692,-.213],[-.624,-.153],[-.577,-.26],[-.638,-.226],[-.488,-.273],[-.407,-.26],[-.373,-.32],[-.556,-.333],[-.461,-.34],[-.597,-.414],[-.529,-.414],[-.421,-.4],[-.285,-.427],[-.448,-.487],[-.393,-.481],[-.326,-.467],[-.414,-.541],[-.332,-.548],[-.326,-.628],[-.353,-.695],[-.312,-.701],[-.244,-.648],[-.163,-.641],[-.136,-.688],[-.217,-.728],[-.183,-.762],[-.244,-.588],[-.52,-.29],[-.44,-.31],[-.48,-.4],[-.36,-.43],[-.66,-.16],[-.27,-.55],[-.733,-.066],[-.651,-.066],[-.726,-.133],[-.651,-.159],[-.583,-.119],[-.665,-.199],[-.543,-.253],[-.597,-.32],[-.434,-.293],[-.502,-.32],[-.421,-.347],[-.516,-.373],[-.461,-.4],[-.57,-.387],[-.366,-.414],[-.312,-.44],[-.38,-.548],[-.285,-.521],[-.299,-.601],[-.38,-.614],[-.271,-.681],[-.19,-.681],[-.204,-.614]];
const clusterNoise=[[.129,.762],[-.275,.754],[-.312,.724],[-.353,.718],[-.407,.697],[-.461,.664],[-.516,.61],[-.563,.584],[-.597,.544],[-.638,.483],[-.685,.436],[-.678,.39],[-.712,.343],[-.678,.316],[-.746,.296],[-.678,.242],[-.767,.256],[-.733,.202],[-.78,.162],[-.794,.122],[-.76,.062],[-.706,.149],[-.658,.135],[-.617,.088],[-.665,.108],[-.509,.155],[-.421,.155],[-.387,.115],[-.278,.122],[-.176,.135],[-.197,.102],[-.265,.216],[-.081,.229],[0,.175],[-.034,.162],[-.122,.122],[-.095,.075],[-.061,.042],[-.505,.052],[-.448,.001],[-.36,.021],[-.36,-.025],[-.441,-.059],[-.237,.031],[-.17,-.001],[-.068,.526],[-.115,.456],[-.034,.483],[.027,.459],[-.081,.403],[-.041,.39],[-.258,.41],[-.224,.383],[-.19,.396],[-.16,.296],[-.122,.329],[-.068,.356],[-.35,.392],[.149,.477],[.102,.45],[.197,.419],[.115,.363],[.052,.349],[.068,.276],[.19,.296],[.088,.216],[.129,.175],[.265,.463],[.299,.47],[.339,.456],[.441,.456],[.418,.416],[.332,.343],[.278,.296],[.332,.296],[.393,.296],[.441,.282],[.488,.249],[.285,.222],[.536,.209],[.448,.189],[.353,.162],[.278,.135],[.339,.108],[.577,.122],[.21,.115],[.068,.108],[.122,.122],[.163,.082],[.081,.028],[.149,.015],[.204,.015],[.251,.021],[.339,.028],[.411,.048],[.488,.062],[.563,.062],[.509,.015],[.57,.015],[.441,-.066],[.55,-.066],[.57,-.112],[.488,-.092],[.455,-.173],[.468,-.266],[.502,-.133],[.19,-.099],[.109,-.112],[.047,-.133],[-.007,-.052],[-.061,-.046],[-.102,-.099],[-.136,-.159],[-.197,-.106],[-.244,-.119],[-.204,-.186],[-.237,-.233],[-.163,-.266],[-.092,-.233],[-.007,-.224],[.047,-.22],[.102,-.199],[.136,-.159],[.061,-.293],[-.353,-.173],[-.312,-.159],[-.448,-.173],[-.461,-.139],[-.522,-.186],[-.55,-.099],[-.756,-.226],[-.685,-.286],[-.706,-.34],[-.695,-.411],[-.319,-.226],[-.319,-.28],[-.299,-.3],[-.536,-.534],[-.488,-.588],[-.502,-.507],[-.414,-.63],[-.231,-.347],[-.251,-.407],[-.204,-.454],[-.224,-.521],[-.19,-.554],[-.176,-.507],[-.047,-.621],[-.034,-.688],[-.068,-.748],[-.109,-.815],[-.081,-.822],[.068,-.628],[.041,-.715],[.109,-.688],[.149,-.655],[.224,-.581],[.278,-.561],[.183,-.708],[.163,-.775],[.095,-.788],[0,-.805],[.047,-.802],[.427,-.695],
[-.617,.523],[-.665,.456],[-.726,.363],[-.699,.309],[-.773,.216],[-.74,.108],[-.807,.095],[-.712,.242],[-.326,.724],[-.434,.684],[.122,.162],[.163,.135],[.095,.068],[.176,.055],[.136,.082],[.393,.256],[.299,.269],[.475,.162],[.55,.082],[.299,.135]];
const clusterIds=['0','1','2','3','4','5'];
const clusterLabelPos=[[.305,-.185],[.068,-.46],[.59,.367],[.563,-.313],[-.45,.392],[-.383,-.488]];
// ---- Panel g
const segCluster0=[['Alternaria',5.2],['gap',1.2],['Cryptococcus',1.2],['gap',1.9],['Selenophoma',1.2],['gap',1],['Unknown_Fungi',10.7]];
const segCluster1=[['gap',3.3],['Cryptococcus',1.4],['gap',.8],['Malassezia',10.9],['gap',2.3],['Unknown_Fungi',24]];
const segCluster2=[['Candida',20.5],['gap',1],['Cladosporium',2.6],['gap',1.4],['Cystobasidium',1],['gap',2.1],['Kluyveromyces',2.7],['gap',2],['Malassezia',1],['gap',2],['Selenophoma',1],['gap',1],['Phoma',1],['gap',1],['Unknown_Eurotiales',1.7],['gap',4.3],['Unknown_Stereaceae',1],['gap',1],['Rhodotorula',1.5],['gap',1.5],['Unknown_Pleosporales',1],['gap',6.1],['Penicillium',1.4]];
const segCluster3=[['gap',2.4],['Cryptococcus',5],['gap',.6],['Unknown_Eurotiales',1.5],['gap',1.9],['Guehomyces',1],['gap',1.2],['Selenophoma',1.6],['gap',2.4],['Unknown_Fungi',49.8],['gap',9.6],['Rhodotorula',1.4],['gap',1.9],['Acremonium',1.2],['gap',1.9],['Phoma',1],['gap',3.6],['Kluyveromyces',2]];
const segCluster4=[['Candida',130]];
const segCluster5=[['Aspergillus',1.5],['gap',.9],['Cladosporium',1],['gap',2.1],['Kluyveromyces',2.1],['gap',.7],['Malassezia',85],['gap',2.3],['Selenophoma',2.4],['gap',3.3],['Rhodotorula',1]];
const meanAge=[15.8,20.3,20.9,21,21,21.3];
const ageHigh=[30.8,35.7,36.65,37.9,35.7,36.6];
const ageLow=[.75,4.75,5.1,4.15,6.3,6];
// ---- Panel h
const infantIds=['35','127','91','73','139','158','175','128'];
const noiseBlack=[0,40,22.2,0,0,33.3,0,0];
const noiseBrown=[0,0,11.1,40,0,0,0,0];
const noisePink=[100,40,22.2,0,33.3,0,25,14.2];
const noiseNone=[0,20,44.5,60,66.7,66.7,75,85.8];

const genusColors={Kluyveromyces:'#333333',Aspergillus:'#ffff00',Malassezia:'#00c9c9',Selenophoma:'#b9ffcc',Phoma:'#b9ffcc',Alternaria:'#ffc47f',Candida:'#c23a21',Unknown_Fungi:'#969696',Cryptococcus:'#c5cae6',Cladosporium:'#ff9d9d',Other:'#999999',Penicillium:'#ff0000',Unknown_Eurotiales:'#bba998',Guehomyces:'#333333',Rhodotorula:'#b0a327',Acremonium:'#333333',Unknown_Pleosporales:'#b9ffcc',Cystobasidium:'#6b4a22',Unknown_Stereaceae:'#87c8cc',Unknown_Ascomycota:'#333333',gap:'#ffffff'};
const genusCol1=['Kluyveromyces','Aspergillus','Malassezia','Selenophoma','Phoma','Alternaria','Candida','Unknown_Fungi','Cryptococcus','Cladosporium'];
const genusCol2=['Other','Penicillium','Unknown_Eurotiales','Guehomyces','Rhodotorula','Acremonium','Unknown_Pleosporales','Cystobasidium','Unknown_Stereaceae','Unknown_Ascomycota'];
const genusDraw=[['gap',unassigned],['Cryptococcus',cryptococcus],['Selenophoma',selenophoma],['Phoma',phoma],['Unknown_Pleosporales',unknownPleosporales],['Alternaria',alternaria],['Other',otherGenus],['Unknown_Fungi',unknownFungi.concat(unknownFungiExtra)],['Malassezia',malassezia.concat(malasseziaExtra)],['Candida',candida.concat(candidaExtra)],['Cladosporium',cladosporium],['Unknown_Eurotiales',unknownEurotiales],['Unknown_Stereaceae',unknownStereaceae],['Cystobasidium',cystobasidium],['Rhodotorula',rhodotorula],['Aspergillus',aspergillus],['Penicillium',penicillium],['Kluyveromyces',kluyveromyces],['Guehomyces',guehomyces],['Acremonium',acremonium],['Unknown_Ascomycota',unknownAscomycota]];
const genusSamples=[].concat(...genusDraw.map(d=>d[1]));
const allSamples=genusSamples.concat(clusterNoise,clusterArc,cluster0,cluster1,cluster2,cluster3,cluster4,cluster5);
const deliverySamples=genusSamples.concat(clusterArc,cluster5,cluster2,cluster3);

const FONT='"Liberation Sans",Arial,sans-serif';
const INK='#262626', FRAME='#444444';
const grids=[],xAxes=[],yAxes=[],series=[],titles=[],legends=[],graphics=[];
function fmt(v){const s=Math.abs(v).toFixed(2);return (v<0?'\u2212':'')+s;}
function fmt1(v){const s=Math.abs(v).toFixed(1);return (v<0?'\u2212':'')+s;}
function scatterPanel(g,xr,yr,ticks,f,yGap){
  grids.push({left:g[0],top:g[1],width:g[2],height:g[3],show:true,borderColor:FRAME,borderWidth:2,backgroundColor:'#fff',outerBoundsMode:'none'});
  xAxes.push({type:'value',gridIndex:grids.length-1,min:xr[0],max:xr[1],name:'PCoA 1',nameLocation:'middle',nameGap:33,nameTextStyle:{fontFamily:FONT,fontSize:17.5,color:INK},axisLine:{show:false},axisTick:{show:false},splitLine:{show:false},axisLabel:{customValues:ticks,formatter:f,fontFamily:FONT,fontSize:16,color:INK,margin:13}});
  yAxes.push({type:'value',gridIndex:grids.length-1,min:yr[0],max:yr[1],name:'PCoA 2',nameLocation:'middle',nameGap:yGap,nameMoveOverlap:false,nameTextStyle:{fontFamily:FONT,fontSize:17.5,color:INK},axisLine:{show:false},axisTick:{show:false},splitLine:{show:false},axisLabel:{customValues:ticks,formatter:f,fontFamily:FONT,fontSize:16,color:INK,margin:13}});
  return grids.length-1;
}
function pts(i,name,data,color,size,extra){
  series.push(Object.assign({type:'scatter',name:name,xAxisIndex:i,yAxisIndex:i,data:data,symbolSize:size,itemStyle:{color:color,opacity:1},animation:false,silent:true},extra||{}));
}
const EDGE={borderColor:'rgba(0,0,0,.33)',borderWidth:1,opacity:1};
const T=[255,456],T2=[906,456];
// a
let ia=scatterPanel([81,T[0],450,T[1]],[-.92,.912],[-.943,.889],[-.75,0,.75],fmt,54);
genusDraw.forEach(d=>pts(ia,d[0]==='gap'?'Unassigned':d[0],d[1],genusColors[d[0]],17,{itemStyle:Object.assign({color:genusColors[d[0]]},EDGE)}));
// b
let ib=scatterPanel([607,T[0],449,T[1]],[-.904,.888],[-.93,.87],[-.8,0,.8],fmt1,46);
const ageSeriesIdx=[];
[[7,age7],[14,age14],[21,age21],[28,age28],[35,age35],[42,age42]].forEach(a=>{ageSeriesIdx.push(series.length);
  pts(ib,'Age '+a[0],a[1].map(p=>[p[0],p[1],a[0]]),'#888',17,{itemStyle:{opacity:1,borderColor:a[0]===7?'rgba(90,90,90,.6)':'rgba(60,60,60,.35)',borderWidth:a[0]===42?0:.8}});});
// c
let ic=scatterPanel([1135,T[0],450,T[1]],[-.916,.913],[-.943,.889],[-.75,0,.75],fmt,49);
pts(ic,'Breast-milk',allSamples,'#ffc0cb',16.5);pts(ic,'NPO',dietNPO,'#ffff00',16.5);pts(ic,'Formula',dietFormula,'#0000ff',16.5);pts(ic,'Mix',dietMix,'#ffa000',16.5);pts(ic,'Unknown',dietUnknown,'#1a1a1a',16.5);
// f
let iF=scatterPanel([81,T2[0],450,T2[1]],[-.92,.912],[-.944,.888],[-.75,0,.75],fmt,54);
pts(iF,'Noise',clusterNoise,'#808080',20.5);
[[cluster4.concat(clusterArc),'#ca2a87','Cluster 4'],[cluster2,'#df77ad','Cluster 2'],[cluster3,'#b7156f','Cluster 3'],[cluster1,'#8e0152','Cluster 1'],[cluster0,'#c0e68f','Cluster 0'],[cluster5,'#f7d0e8','Cluster 5']].forEach(c=>pts(iF,c[2],c[0],c[1],20.5));
series.push({type:'scatter',name:'ClusterIds',xAxisIndex:iF,yAxisIndex:iF,z:5,symbolSize:1,itemStyle:{color:'rgba(0,0,0,0)',opacity:1},animation:false,silent:true,
 data:clusterLabelPos.map((p,k)=>({value:p,label:{show:true,position:'inside',formatter:clusterIds[k],fontFamily:FONT,fontWeight:'bold',fontSize:28,color:(k===0||k===5)?'#000':'#fff'}}))});
// e
let ie=scatterPanel([605,T2[0],449,T2[1]],[-.92,.912],[-.944,.888],[-.75,0,.75],fmt,50);
pts(ie,'C-section',deliverySamples,'#ffa500',16.5,{itemStyle:{color:'#ffa500',opacity:.72}});
pts(ie,'Vaginal',vaginal,'#008000',16.5,{itemStyle:{color:'#008000',opacity:.78}});
// d
let id=scatterPanel([1133,T2[0],450,T2[1]],[-.919,.91],[-.944,.888],[-.75,0,.75],fmt,52);
pts(id,'Male',genusSamples,'#daa520',16.5,{itemStyle:{color:'#daa520',opacity:.72}});
pts(id,'Female',female,'#000080',16.5,{itemStyle:{color:'#000080',opacity:.75}});
// g top
grids.push({left:81,top:1463,width:450,height:190.5,show:true,borderColor:FRAME,borderWidth:2,outerBoundsMode:'none'});
const ig=grids.length-1;
xAxes.push({type:'category',gridIndex:ig,data:clusterIds,axisLine:{show:false},axisTick:{show:false},axisLabel:{show:false},splitLine:{show:false}});
yAxes.push({type:'value',gridIndex:ig,min:0,max:138,name:'# Samples in cluster',nameLocation:'middle',nameGap:52,nameMoveOverlap:false,nameTextStyle:{fontFamily:FONT,fontSize:21.5,color:INK},axisLine:{show:false},axisTick:{show:false},splitLine:{show:false},axisLabel:{customValues:[0,50,100],fontFamily:FONT,fontSize:16,color:INK,margin:13}});
const segs=[segCluster0,segCluster1,segCluster2,segCluster3,segCluster4,segCluster5];
const maxSeg=Math.max(...segs.map(s=>s.length));
for(let i=0;i<maxSeg;i++){
  series.push({type:'bar',name:'Segment '+i,xAxisIndex:ig,yAxisIndex:ig,stack:'g',barWidth:36,animation:false,silent:true,
   data:segs.map(s=>s[i]?{value:s[i][1],itemStyle:{color:genusColors[s[i][0]]}}:0)});
}
// g bottom
grids.push({left:81,top:1706,width:450,height:211.5,show:true,borderColor:FRAME,borderWidth:2,outerBoundsMode:'none'});
const ig2=grids.length-1;
xAxes.push({type:'value',gridIndex:ig2,min:-.36,max:5.37,name:'Cluster ID',nameLocation:'middle',nameGap:34,nameTextStyle:{fontFamily:FONT,fontSize:17.5,color:INK},axisLine:{show:false},axisTick:{show:false},splitLine:{show:false},axisLabel:{customValues:[0,1,2,3,4,5],fontFamily:FONT,fontSize:16,color:INK,margin:14}});
yAxes.push({type:'value',gridIndex:ig2,min:-1.4,max:44.1,name:'Mean age of sample\nin cluster',nameLocation:'middle',nameGap:9,nameMoveOverlap:false,nameTextStyle:{fontFamily:FONT,fontSize:21,color:INK,lineHeight:36},axisLine:{show:false},axisTick:{show:false},splitLine:{show:false},axisLabel:{customValues:[0,43],fontFamily:FONT,fontSize:18,color:'#111',margin:13}});
meanAge.forEach((m,k)=>series.push({type:'line',name:'Age range '+k,xAxisIndex:ig2,yAxisIndex:ig2,data:[[k,ageLow[k]],[k,ageHigh[k]]],symbol:'none',lineStyle:{color:'#4c72b0',width:2.4},animation:false,silent:true}));
series.push({type:'scatter',name:'Mean age',xAxisIndex:ig2,yAxisIndex:ig2,data:meanAge.map((m,k)=>[k,m]),symbolSize:10.5,itemStyle:{color:'#4c72b0',opacity:1},z:4,animation:false,silent:true});
// h
grids.push({left:650,top:1463,width:497,height:454.5,show:true,borderColor:'#aaaaaa',borderWidth:2,outerBoundsMode:'none'});
const ih=grids.length-1;
xAxes.push({type:'category',gridIndex:ih,data:infantIds,name:'Infant ID',nameLocation:'middle',nameGap:35,nameTextStyle:{fontFamily:FONT,fontSize:18,color:INK},axisLine:{show:true,lineStyle:{color:'#333',width:2}},axisTick:{show:false},axisLabel:{fontFamily:FONT,fontSize:17,color:'#111',margin:16,interval:0}});
xAxes.push({type:'category',gridIndex:ih,data:infantIds,position:'top',axisLine:{show:true,lineStyle:{color:'#333',width:2}},axisTick:{show:false},axisLabel:{show:false}});
const xh=xAxes.length-2;
yAxes.push({type:'value',gridIndex:ih,min:0,max:100,interval:100,name:'% Noise Type',nameLocation:'middle',nameGap:21,nameMoveOverlap:false,nameTextStyle:{fontFamily:FONT,fontSize:21,color:INK},axisLine:{show:false},axisTick:{show:false},splitLine:{show:false},axisLabel:{fontFamily:FONT,fontSize:18,color:'#111',margin:5}});
const yh=yAxes.length-1;
[['Noise type A',noiseBlack,'#000000'],['Noise type B',noiseBrown,'#a52a2a'],['Noise type C',noisePink,'#ffc0cb'],['No noise',noiseNone,'#ffffff']].forEach(s=>{
  series.push({type:'bar',name:s[0],xAxisIndex:xh,yAxisIndex:yh,stack:'h',barWidth:31,animation:false,silent:true,data:s[1],itemStyle:{color:s[2],borderColor:'rgba(60,60,60,.55)',borderWidth:1}});
});
// titles & letters
function text(t,x,y,size,bold,align,color){titles.push({text:t,left:x,top:y-size*.58,padding:0,textAlign:align||'center',textStyle:{fontFamily:FONT,fontSize:size,fontWeight:bold?'bold':'normal',color:color||'#111',lineHeight:size*1.15}});}
[['Samples by dominant genus',305.6,221],['Samples by infant age',831,221],['Samples by diet',1359,221],['Cluster ID',305.6,881],['Samples by delivery mode',829,881],['Samples by gender',1357,881]].forEach(a=>text(a[0],a[1],a[2],21.2));
[['a',18,229],['b',561,228],['c',1085,229],['f',15,885],['e',561,886],['d',1084,879],['g',18,1432],['h',571,1433]].forEach(a=>text(a[0],a[1],a[2],29,true));
text('Diet',1360,36,18);text('Delivery mode',828,792,18);text('Gender',1357,792,18);
text('Infant age (days)',830,176,18);text('\u2264 7',727,170,14.5);text('42',937,171,14.5);
// legends
function legend(names,left,top,w,h,font,gap){legends.push({orient:'vertical',left:left,top:top,padding:0,itemWidth:w,itemHeight:h,itemGap:gap,selectedMode:false,
  data:names.map(n=>({name:n,icon:'circle',itemStyle:{opacity:1,borderWidth:0}})),textStyle:{fontFamily:FONT,fontSize:font,color:'#333',lineHeight:h+1}});}
legend(genusCol1,54,4.6,38,13,18.4,.85);
legend(genusCol2,295,4.6,38,13,18.4,.85);
legend(['Formula','Breast-milk','NPO'],1192,62,70,15,22,18.5);
legend(['Mix','Unknown'],1405,62,70,15,22,18.5);
legend(['C-section'],678,819.5,68,15,22,0);legend(['Vaginal'],873,819.5,70,15,22,0);
legend(['Male'],1227,819.5,71,15,22,0);legend(['Female'],1380,819.5,70,15,22,0);
[[1170,19,381,155],[656,777,346,72],[1207,777,301,72]].forEach(b=>graphics.push({type:'rect',shape:{x:b[0],y:b[1],width:b[2],height:b[3],r:4},style:{fill:'none',stroke:'#dddddd',lineWidth:1.5},silent:true}));
graphics.push({type:'rect',z:100,shape:{x:723.5,y:124.7,width:214,height:32.6},style:{fill:'none',stroke:'#999999',lineWidth:1.5},silent:true});

const chart=echarts.init(document.getElementById('c'),null,{renderer:'canvas'});
chart.setOption({animation:false,backgroundColor:'#fff',grid:grids,xAxis:xAxes,yAxis:yAxes,series:series,title:titles,legend:legends,graphic:graphics,
 visualMap:[{type:'continuous',min:7,max:42,dimension:2,seriesIndex:ageSeriesIdx,orient:'horizontal',left:723.5,top:124.7,itemWidth:32.6,itemHeight:214,padding:0,calculable:false,showLabel:false,text:null,hoverLink:false,realtime:false,inRange:{color:['#ffffff','#000000']}}],
 tooltip:{show:false}});
</script></body></html>
